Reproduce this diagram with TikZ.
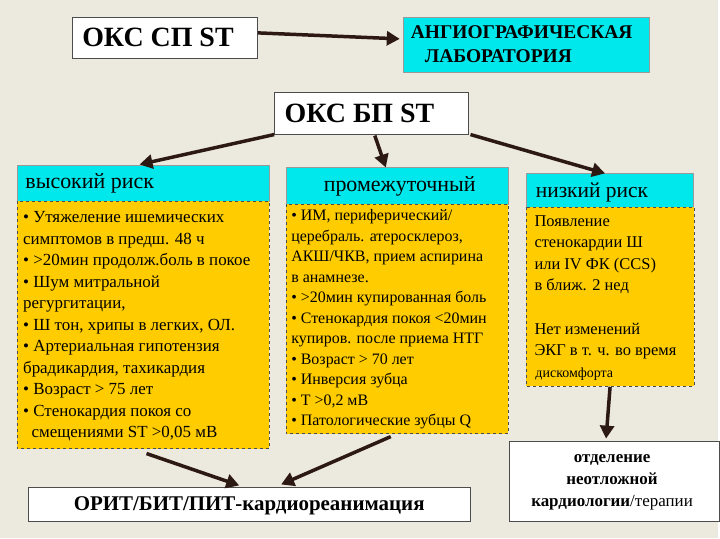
\documentclass[tikz,border=0pt]{standalone}
\usepackage{fontspec}
\setmainfont{Liberation Serif}
\usetikzlibrary{arrows.meta}
\definecolor{bg}{RGB}{236,233,222}
\definecolor{cy}{RGB}{0,232,236}
\definecolor{ye}{RGB}{255,204,0}
\definecolor{ar}{RGB}{45,25,20}
\begin{document}
\begin{tikzpicture}[x=1pt,y=-1pt,
 wbox/.style={draw=black!70,fill=white,line width=0.6pt},
 cbox/.style={draw=black!40,fill=cy,line width=0.6pt},
 ybox/.style={draw=black!70,fill=ye,dashed,line width=0.5pt},
 arr/.style={draw=ar,line width=3.5pt,-{Triangle[length=13pt,width=14pt]}},
 txt/.style={anchor=north west,align=left,inner sep=0pt,font=\fontsize{17}{21.6}\selectfont}]
\fill[bg] (0,0) rectangle (720,540);
% top
\draw[wbox] (73,17) rectangle (258,58);
\node[anchor=west,font=\fontsize{28}{30}\bfseries\selectfont] (sp) at (79,38) {ОКС СП ST};
\draw[cbox] (405,17) rectangle (651,73);
\node[anchor=north west,align=left,inner sep=0pt,font=\fontsize{19.5}{24}\bfseries\selectfont] (ang) at (412,26) {АНГИОГРАФИЧЕСКАЯ\\\hspace*{14pt}ЛАБОРАТОРИЯ};
\draw[wbox] (275,93) rectangle (470,135);
\node[anchor=west,font=\fontsize{28}{30}\bfseries\selectfont] (bp) at (282,114) {ОКС БП ST};
% columns
\draw[cbox] (17,166) rectangle (270,202);
\node[anchor=west,font=\fontsize{22}{24}\selectfont] (h1) at (22,184) {высокий риск};
\draw[ybox] (17,202) rectangle (270,450);
\draw[cbox] (287,168) rectangle (510,205);
\node[font=\fontsize{22}{24}\selectfont] (h2) at (401,187) {промежуточный};
\draw[ybox] (287,205) rectangle (510,435);
\draw[cbox] (528,174) rectangle (696,208);
\node[anchor=west,font=\fontsize{21.5}{24}\selectfont] (h3) at (534,193) {низкий риск};
\draw[ybox] (528,208) rectangle (696,387);
\node[txt] (t1) at (23,212) {• Утяжеление ишемических\\симптомов в предш. 48 ч\\• >20мин продолж.боль в покое\\• Шум митральной\\регургитации,\\• Ш тон, хрипы в легких, ОЛ.\\• Артериальная гипотензия\\брадикардия, тахикардия\\• Возраст > 75 лет\\• Стенокардия покоя со\\\ \ смещениями ST >0,05 мВ};
\node[txt,font=\fontsize{16}{20.6}\selectfont] (t2) at (292,210) {• ИМ, периферический/\\церебраль. атеросклероз,\\АКШ/ЧКВ, прием аспирина\\в анамнезе.\\• >20мин купированная боль\\• Стенокардия покоя <20мин\\купиров. после приема НТГ\\• Возраст > 70 лет\\• Инверсия зубца\\• Т >0,2 мВ\\• Патологические зубцы Q};
\node[txt,font=\fontsize{16.5}{21.6}\selectfont] (t3) at (536,216) {Появление\\стенокардии Ш\\или IV ФК (CCS)\\в ближ. 2 нед};
\node[txt,font=\fontsize{16.5}{21.6}\selectfont] (t4) at (536,324) {Нет изменений\\ЭКГ в т. ч. во время\\{\fontsize{14}{14}\selectfont\hspace*{1pt}дискомфорта}};
% bottom
\draw[wbox] (28,489) rectangle (472,523);
\node[font=\fontsize{21}{22}\bfseries\selectfont] (orit) at (250,507) {ОРИТ/БИТ/ПИТ-кардиореанимация};
\draw[wbox] (511,443) rectangle (722,523);
\node[align=center,font=\fontsize{17}{22}\selectfont] (od) at (614,484) {\textbf{отделение}\\\textbf{неотложной}\\\textbf{кардиологии}/терапии};
% arrows
\coordinate (a1) at (259,33); \coordinate (a2) at (401,39);
\coordinate (b0) at (275,135); \coordinate (b1) at (140,165);
\coordinate (c0) at (376,136); \coordinate (c1) at (387,168);
\coordinate (d0) at (472,135); \coordinate (d1) at (607,174);
\coordinate (e0) at (147,455); \coordinate (e1) at (240,487);
\coordinate (f0) at (392,438); \coordinate (f1) at (282,486);
\coordinate (g0) at (612,388); \coordinate (g1) at (608,440);
\draw[arr] (a1) -- (a2);
\draw[arr] (b0) -- (b1);
\draw[arr] (c0) -- (c1);
\draw[arr] (d0) -- (d1);
\draw[arr] (e0) -- (e1);
\draw[arr] (f0) -- (f1);
\draw[arr] (g0) -- (g1);
\end{tikzpicture}
\end{document}
